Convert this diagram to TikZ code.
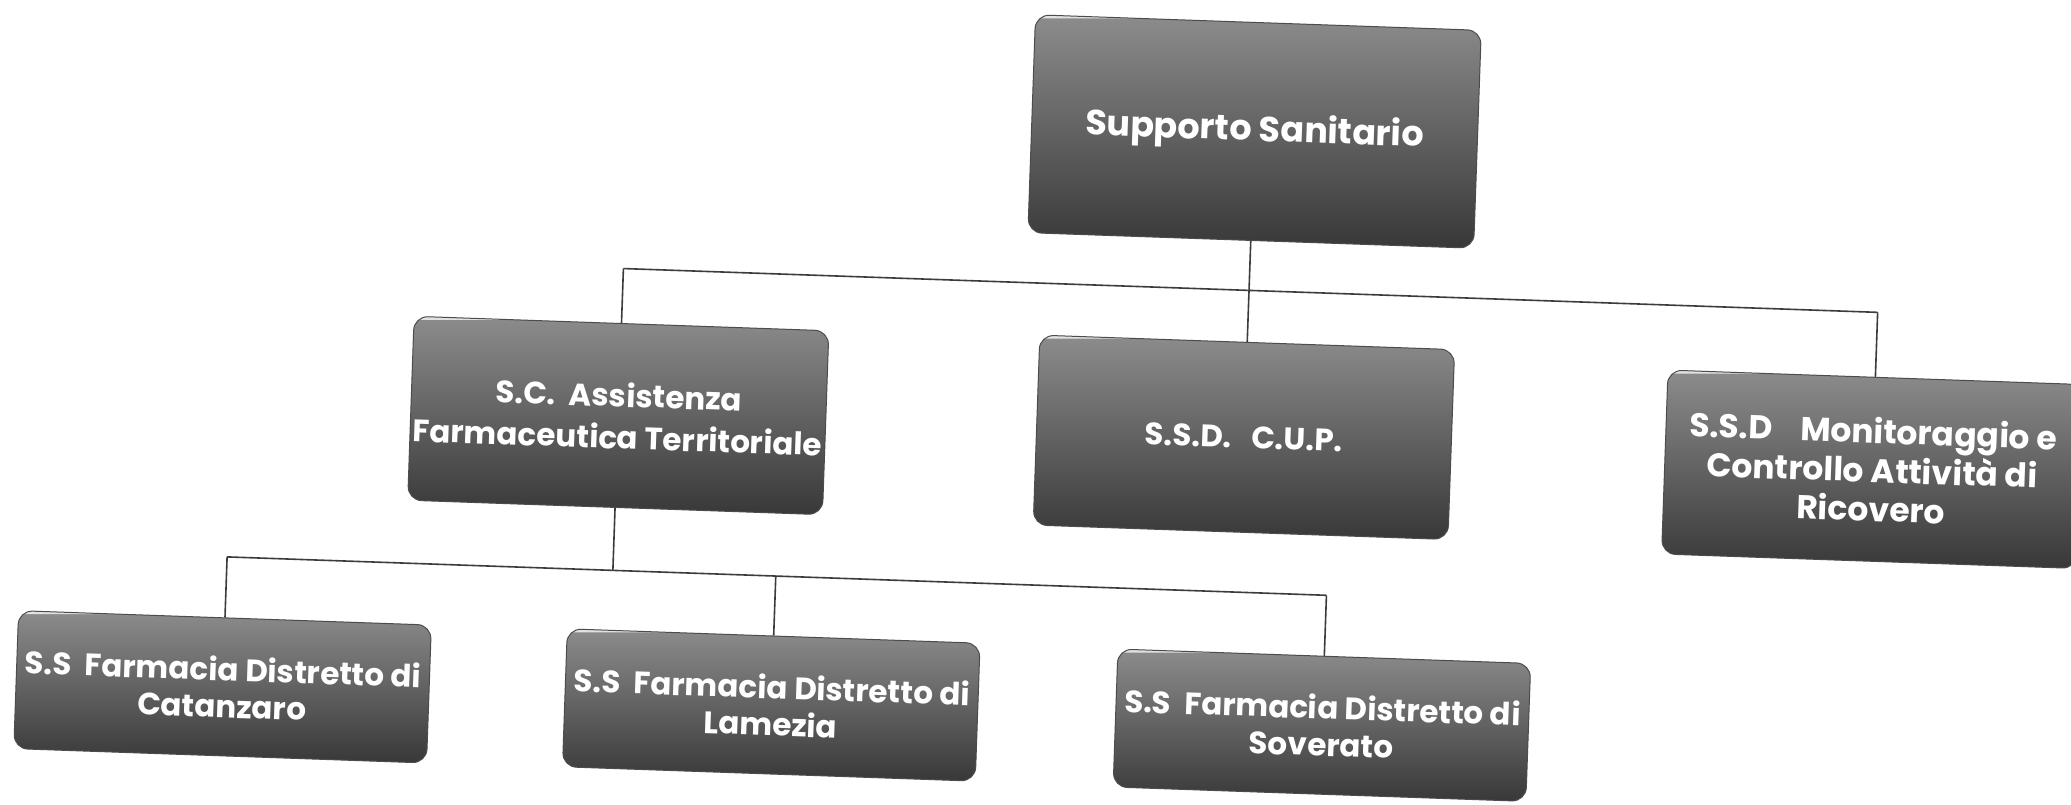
\documentclass[tikz,border=0pt]{standalone}
\usepackage{fontspec}
\setmainfont{Poppins}
\usetikzlibrary{calc}
\definecolor{boxtop}{HTML}{8C8C8C}
\definecolor{boxmid}{HTML}{5C5C5C}
\definecolor{boxbot}{HTML}{383838}
\definecolor{linecol}{HTML}{3C3C3C}
\begin{document}
\begin{tikzpicture}[x=1pt,y=-1pt,
  box/.style={draw=black!70, line width=1pt, rounded corners=14pt,
    top color=boxtop, middle color=boxmid, bottom color=boxbot,
    text=white, font=\bfseries, align=center, inner sep=0pt, transform shape,
    path picture={
      \fill[white] ($(path picture bounding box.south west)+(3pt,3pt)$) circle (7pt);
      \draw[white, opacity=0.75, line width=3pt]
        ($(path picture bounding box.north west)+(0pt,-2pt)$) -- ($(path picture bounding box.north east)+(0pt,-2pt)$);}},
  topbox/.style={box, minimum width=446pt, minimum height=218pt, font=\bfseries\fontsize{35}{42}\selectfont},
  midbox/.style={box, minimum width=415pt, minimum height=184pt, font=\bfseries\fontsize{31}{42}\selectfont},
  monbox/.style={box, minimum width=415pt, minimum height=184pt, font=\bfseries\fontsize{33}{39}\selectfont},
  lowbox/.style={box, minimum width=413pt, minimum height=138pt, font=\bfseries\fontsize{31}{37}\selectfont},
  conn/.style={draw=linecol, line width=1.6pt}]
\useasboundingbox (0,0) rectangle (2071,805);
\clip (0,0) rectangle (2071,805);
\fill[white] (0,0) rectangle (2071,805);
\begin{scope}[rotate around={-2:(1035,402)}]
  \node[topbox] (top) at (1245,124) {Supporto Sanitario};
  \node[midbox] (sc)  at (619,430) {S.C.\ \ Assistenza\\Farmaceutica Territoriale};
  \node[midbox, minimum height=190pt] (cup) at (1245,430) {S.S.D.\ \ \ C.U.P.};
  \node[monbox] (mon) at (1874,440) {S.S.D\ \ \ \ Monitoraggio e\\Controllo Attività di\\Ricovero};
  \node[lowbox] (cat) at (233,715) {S.S\ \ Farmacia Distretto di\\Catanzaro};
  \node[lowbox] (lam) at (782,714) {S.S\ \ Farmacia Distretto di\\Lamezia};
  \node[lowbox] (sov) at (1333,715) {S.S\ \ Farmacia Distretto di\\Soverato};
  \coordinate (jT) at (1245,283);
  \coordinate (jA) at (619,283);
  \coordinate (jM) at (1874,283);
  \coordinate (kA) at (619,585);
  \coordinate (kC) at (233,585);
  \coordinate (kL) at (782,585);
  \coordinate (kS) at (1333,585);
  \draw[conn] (top) -- (jT);
  \draw[conn] (jA) -- (jM);
  \draw[conn] (jA) -- (sc);
  \draw[conn] (jT) -- (cup);
  \draw[conn] (jM) -- (mon);
  \draw[conn] (sc) -- (kA);
  \draw[conn] (kC) -- (kS);
  \draw[conn] (kC) -- (cat);
  \draw[conn] (kL) -- (lam);
  \draw[conn] (kS) -- (sov);
\end{scope}
\end{tikzpicture}
\end{document}
